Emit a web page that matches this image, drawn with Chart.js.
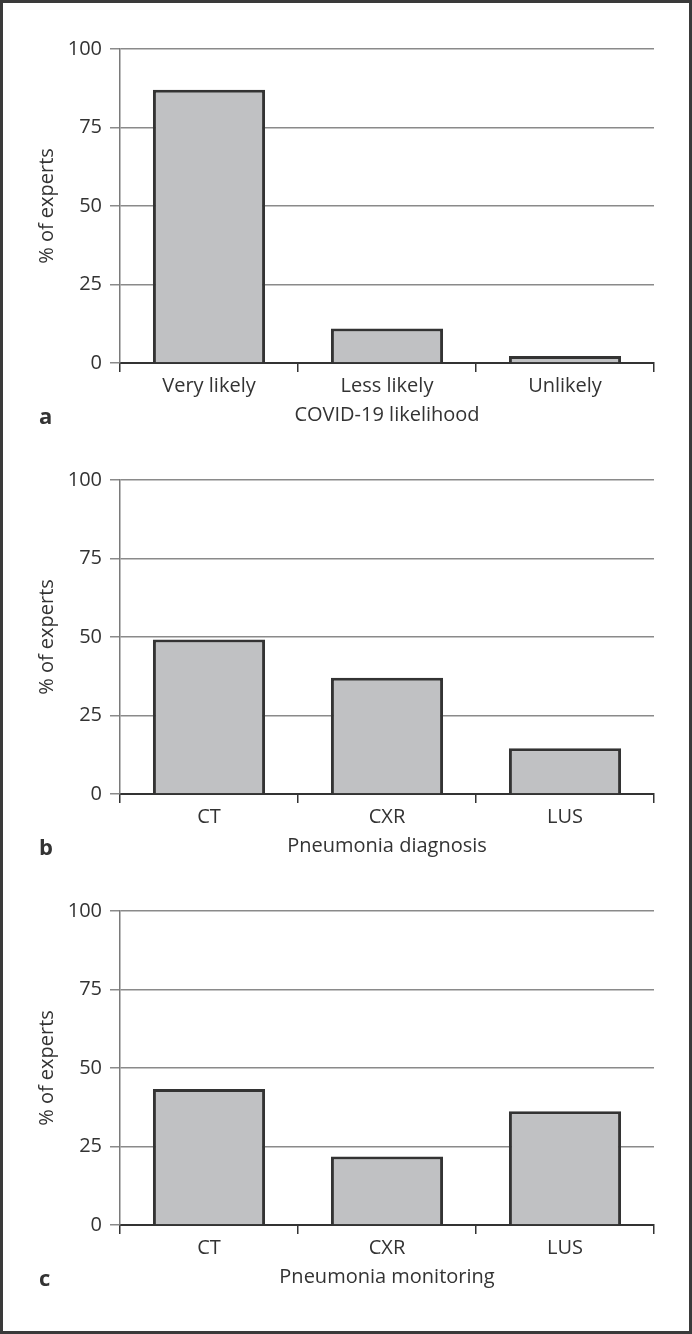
<!DOCTYPE html>
<html>
<head>
<meta charset="utf-8">
<script src="https://cdn.jsdelivr.net/npm/chart.js@4/dist/chart.umd.min.js"></script>
<style>
  body { margin: 0; background: #fff; }
  #frame {
    position: absolute; left: 0; top: 0; width: 692px; height: 1334px;
    box-sizing: border-box; border: 3px solid #3a3a3a; pointer-events: none;
  }
  .panel { position: absolute; left: 0; width: 692px; height: 431px; }
  .letter {
    position: absolute; left: 39px; font: bold 22px 'Open Sans', sans-serif;
    color: #333; line-height: 30px;
  }
</style>
</head>
<body>
<div class="panel" style="top:0"><canvas id="chart-a" width="692" height="431"></canvas></div>
<div class="panel" style="top:431px"><canvas id="chart-b" width="692" height="431"></canvas></div>
<div class="panel" style="top:862px"><canvas id="chart-c" width="692" height="431"></canvas></div>
<div class="letter" style="top:400px">a</div>
<div class="letter" style="top:831px">b</div>
<div class="letter" style="top:1262px">c</div>
<div id="frame"></div>
<script>
const likelihoodLabels = ['Very likely', 'Less likely', 'Unlikely'];
const modalityLabels   = ['CT', 'CXR', 'LUS'];

const likelihoodValues = [87, 11, 2.2];
const diagnosisValues  = [49.2, 37, 14.6];
const monitoringValues = [43.3, 21.8, 36.2];

const xTitles = ['COVID-19 likelihood', 'Pneumonia diagnosis', 'Pneumonia monitoring'];
const yTitle  = '% of experts';
const yMin = 0, yMax = 100, yStep = 25;

const FONT = "'Open Sans', sans-serif";
const TEXT = '#333333';

function makeChart(id, labels, values, xTitle) {
  const ctx = document.getElementById(id).getContext('2d');
  return new Chart(ctx, {
    type: 'bar',
    data: {
      labels,
      datasets: [{
        data: values,
        backgroundColor: '#c0c1c3',
        borderColor: '#333333',
        borderWidth: 3,
        categoryPercentage: 1,
        barPercentage: 0.63
      }]
    },
    options: {
      responsive: false,
      animation: false,
      layout: { padding: { top: 49, right: 38, left: 0, bottom: 0 } },
      plugins: { legend: { display: false }, tooltip: { enabled: false } },
      scales: {
        x: {
          afterFit: s => { s.height = 68; },
          border: { color: '#333333', width: 2 },
          grid: {
            drawOnChartArea: false, drawTicks: true, tickLength: 9,
            color: '#333333', lineWidth: 1.5
          },
          ticks: { color: TEXT, padding: 2, font: { family: FONT, size: 20 } },
          title: {
            display: true, text: xTitle, color: TEXT,
            padding: { top: 0, bottom: 4 }, font: { family: FONT, size: 20 }
          }
        },
        y: {
          min: yMin, max: yMax,
          afterFit: s => { s.width = 120; },
          border: { color: '#7a7a7a', width: 1.5 },
          grid: { color: '#8a8a8a', lineWidth: 1.5, tickLength: 10 },
          ticks: { stepSize: yStep, color: TEXT, padding: 8, font: { family: FONT, size: 20 } },
          title: {
            display: true, text: yTitle, color: TEXT,
            padding: { top: 35, bottom: 0 }, font: { family: FONT, size: 20 }
          }
        }
      }
    }
  });
}

makeChart('chart-a', likelihoodLabels, likelihoodValues, xTitles[0]);
makeChart('chart-b', modalityLabels, diagnosisValues, xTitles[1]);
makeChart('chart-c', modalityLabels, monitoringValues, xTitles[2]);
</script>
</body>
</html>
